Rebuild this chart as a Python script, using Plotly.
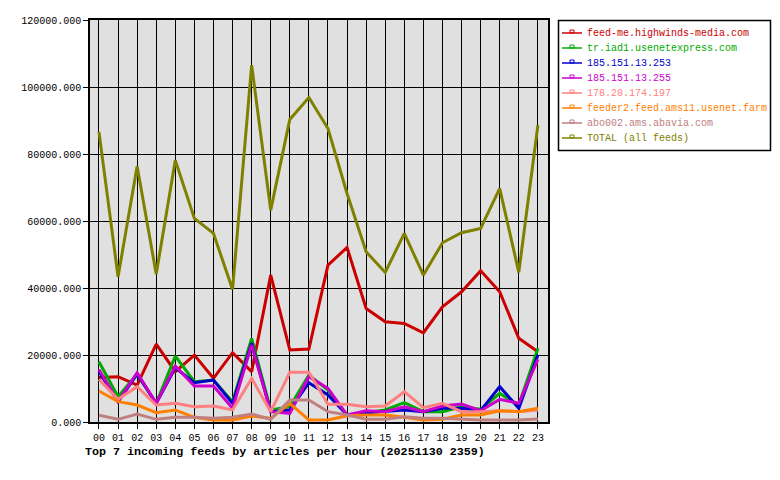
import plotly.graph_objects as go

hours = ["%02d" % h for h in range(24)]

feed_me = [13300, 13520, 11040, 23270, 15010, 19990, 13040, 20680, 15020, 43850, 21480, 21780,
           46840, 52100, 33900, 29920, 29430, 26640, 34400, 38870, 45140, 38870, 24970, 20980]
tr_iad1 = [18000, 7560, 14300, 5570, 19690, 12030, 12530, 6070, 24970, 3580, 4570, 14020,
           9550, 2090, 2780, 3580, 5770, 3080, 3080, 4570, 3780, 8550, 5070, 21980]
ip_253 = [15000, 6070, 14300, 5570, 16200, 11730, 12530, 5570, 23500, 3080, 3580, 11730,
          8050, 2090, 2780, 3080, 3580, 3080, 4080, 4080, 3380, 10540, 4080, 19990]
ip_255 = [15700, 6070, 14720, 5570, 16700, 10740, 10740, 4080, 22970, 3080, 2590, 13520,
          10040, 2090, 3380, 3080, 4570, 3080, 4770, 5370, 3380, 6760, 5570, 18700]
ip_197 = [12730, 6760, 10540, 5070, 5570, 4570, 4770, 3600, 13030, 3080, 14820, 14820,
          5270, 5270, 4570, 4770, 9050, 4280, 5570, 3080, 3080, 3380, 3080, 3580]
feeder2 = [9250, 6070, 5070, 2780, 3580, 1390, 600, 600, 1800, 1090, 5570, 600,
           600, 1890, 2090, 2090, 1390, 600, 800, 2090, 2090, 3380, 3080, 4080]
abo002 = [1990, 800, 2390, 800, 1390, 1390, 1090, 1390, 2390, 800, 6560, 6560,
          3080, 2090, 800, 800, 1590, 1090, 1090, 800, 600, 600, 600, 900]
total = [86600, 43350, 76370, 44150, 78160, 60760, 56290, 39580, 106500, 63240, 90290, 96860,
         87610, 68220, 50810, 44650, 56290, 43850, 53500, 56490, 57780, 69710, 44650, 88600]

series_names = ["feed-me.highwinds-media.com", "tr.iad1.usenetexpress.com", "185.151.13.253",
                "185.151.13.255", "178.20.174.197", "feeder2.feed.ams11.usenet.farm",
                "abo002.ams.abavia.com", "TOTAL (all feeds)"]
series_values = [feed_me, tr_iad1, ip_253, ip_255, ip_197, feeder2, abo002, total]
series_colors = ["#cc0000", "#00aa00", "#0000cc", "#cc00cc", "#ff8080", "#ff8000", "#c08080", "#808000"]

y_ticks = [0, 20000, 40000, 60000, 80000, 100000, 120000]
title_text = "Top 7 incoming feeds by articles per hour (20251130 2359)"

# plot area pixel geometry
PL, PR, PT, PB = 90, 548, 20, 422
W, H = 780, 480

def px(x):
    return (x - PL) / (PR - PL)

def py(y):
    return (PB - y) / (PB - PT)

xs = list(range(len(hours)))
fig = go.Figure()
for name, vals, col in zip(series_names, series_values, series_colors):
    fig.add_trace(go.Scatter(x=xs, y=vals, mode="lines", name=name,
                             line=dict(color=col, width=3), showlegend=False))

mono = "Liberation Mono, DejaVu Sans Mono, monospace"
shapes = []
annotations = []
# legend box
shapes.append(dict(type="rect", xref="paper", yref="paper", x0=px(558.5), x1=px(770.5),
                   y0=py(150.5), y1=py(20.5), line=dict(color="black", width=1.5),
                   fillcolor="white", layer="above"))
for i, (name, col) in enumerate(zip(series_names, series_colors)):
    yy = 33 + 15 * i
    shapes.append(dict(type="line", xref="paper", yref="paper", x0=px(562), x1=px(582),
                       y0=py(yy), y1=py(yy), line=dict(color=col, width=1.5), layer="above"))
    shapes.append(dict(type="rect", xref="paper", yref="paper", x0=px(570), x1=px(574),
                       y0=py(yy), y1=py(yy - 3), line=dict(color=col, width=1), layer="above"))
    annotations.append(dict(x=px(585), y=py(yy), xref="paper", yref="paper", text=name,
                            showarrow=False, xanchor="left", yanchor="middle",
                            font=dict(family=mono, size=10, color=col)))

annotations.append(dict(x=px(83), y=py(452), xref="paper", yref="paper", text="<b>" + title_text + "</b>",
                        showarrow=False, xanchor="left", yanchor="middle",
                        font=dict(family=mono, size=11.7, color="black")))

fig.update_layout(
    width=W, height=H,
    margin=dict(l=PL, r=W - PR, t=PT, b=H - PB, pad=0),
    paper_bgcolor="white", plot_bgcolor="#e0e0e0",
    font=dict(family=mono, size=10, color="black"),
    shapes=shapes, annotations=annotations,
    showlegend=False,
)
fig.update_xaxes(range=[-0.47, 23.53], tickmode="array", tickvals=xs, ticktext=hours,
                 showgrid=True, gridcolor="black", gridwidth=1, zeroline=False,
                 showline=True, linecolor="black", linewidth=1.5, mirror=True,
                 ticks="outside", ticklen=5, tickcolor="black",
                 tickfont=dict(family=mono, size=10, color="black"))
fig.update_yaxes(range=[0, 120000], tickmode="array", tickvals=y_ticks, tickformat=".3f",
                 showgrid=True, gridcolor="black", gridwidth=1, zeroline=False,
                 showline=True, linecolor="black", linewidth=1.5, mirror=True,
                 ticks="outside", ticklen=5, tickcolor="black",
                 tickfont=dict(family=mono, size=10, color="black"))

fig.write_html("out.html")
